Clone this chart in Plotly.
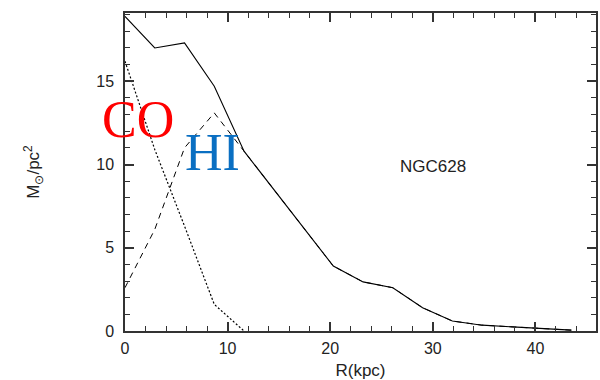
import plotly.graph_objects as go

# Gas surface density profiles of NGC 628, sampled every 2.9 kpc
radius_kpc = [0.0, 2.9, 5.8, 8.7, 11.6, 14.5, 17.4, 20.3, 23.2, 26.1,
              29.0, 31.9, 34.8, 37.7, 40.6, 43.5]
total_gas = [18.9, 17.0, 17.3, 14.7, 10.8, 8.5, 6.2, 3.9, 2.95, 2.6,
             1.4, 0.6, 0.35, 0.25, 0.12, 0.05]
co_radius = [0.0, 2.9, 5.8, 8.7, 11.6]
co_gas = [16.2, 10.9, 6.3, 1.6, 0.0]
hi_gas = [2.6, 6.1, 11.0, 13.1, 10.8, 8.5, 6.2, 3.9, 2.95, 2.6,
          1.4, 0.6, 0.35, 0.25, 0.12, 0.05]

x_range = [0, 45.9]
y_range = [0, 19.1]
x_major, x_minor_step = 10, 2
y_major, y_minor_step = 5, 1

fig = go.Figure()
fig.add_trace(go.Scatter(x=radius_kpc, y=hi_gas, mode="lines",
                         line=dict(color="black", width=1, dash="6px,5px")))
fig.add_trace(go.Scatter(x=co_radius, y=co_gas, mode="lines",
                         line=dict(color="black", width=1.2, dash="2px,2px")))
fig.add_trace(go.Scatter(x=radius_kpc, y=total_gas, mode="lines",
                         line=dict(color="black", width=1.1)))
# empty trace that carries the top and right tick frames
fig.add_trace(go.Scatter(x=[None], y=[None], xaxis="x2", yaxis="y2",
                         mode="lines", hoverinfo="skip"))

tick_font = dict(family="Liberation Sans, Arial", size=16, color="#222")
frame = dict(showgrid=False, zeroline=False, showline=True, linecolor="#333",
             linewidth=1.5, ticks="inside", ticklen=9, tickwidth=1.5,
             tickcolor="#333", tickmode="linear", tick0=0)
x_minor = dict(dtick=x_minor_step, tick0=0, ticks="inside", ticklen=5,
               tickwidth=1.3, tickcolor="#333")
y_minor = dict(dtick=y_minor_step, tick0=0, ticks="inside", ticklen=5,
               tickwidth=1.3, tickcolor="#333")

fig.update_layout(
    xaxis=dict(range=x_range, dtick=x_major, minor=x_minor,
               tickfont=tick_font, mirror=True, ticklabelstandoff=2,
               title=dict(text="R(kpc)", standoff=8,
                          font=dict(family="Liberation Sans, Arial",
                                    size=17, color="#222")),
               **frame),
    yaxis=dict(range=y_range, dtick=y_major, minor=y_minor,
               tickfont=tick_font, mirror=True, ticklabelstandoff=6,
               title=dict(text="M<sub>⊙</sub>/pc<sup>2</sup>", standoff=52,
                          font=dict(family="Liberation Sans, Arial",
                                    size=17, color="#222")),
               **frame),
    xaxis2=dict(range=x_range, dtick=x_major, minor=x_minor,
                overlaying="x", side="top", showticklabels=False, **frame),
    yaxis2=dict(range=y_range, dtick=y_major, minor=y_minor,
                overlaying="y", side="right", showticklabels=False, **frame),
    width=600, height=380, showlegend=False,
    margin=dict(l=125, r=2, t=13, b=49),
    plot_bgcolor="white", paper_bgcolor="white",
)

fig.add_annotation(x=30, y=9.9, text="NGC628", showarrow=False,
                   font=dict(family="Liberation Sans, Arial", size=17,
                             color="#222"))
fig.add_annotation(x=1.3, y=12.7, text="CO", showarrow=False,
                   font=dict(family="Liberation Serif, Times New Roman",
                             size=52, color="#ff0000"))
fig.add_annotation(x=8.5, y=10.7, text="HI", showarrow=False,
                   font=dict(family="Liberation Serif, Times New Roman",
                             size=52, color="#0a6fc2"))

fig.write_html("out.html")
